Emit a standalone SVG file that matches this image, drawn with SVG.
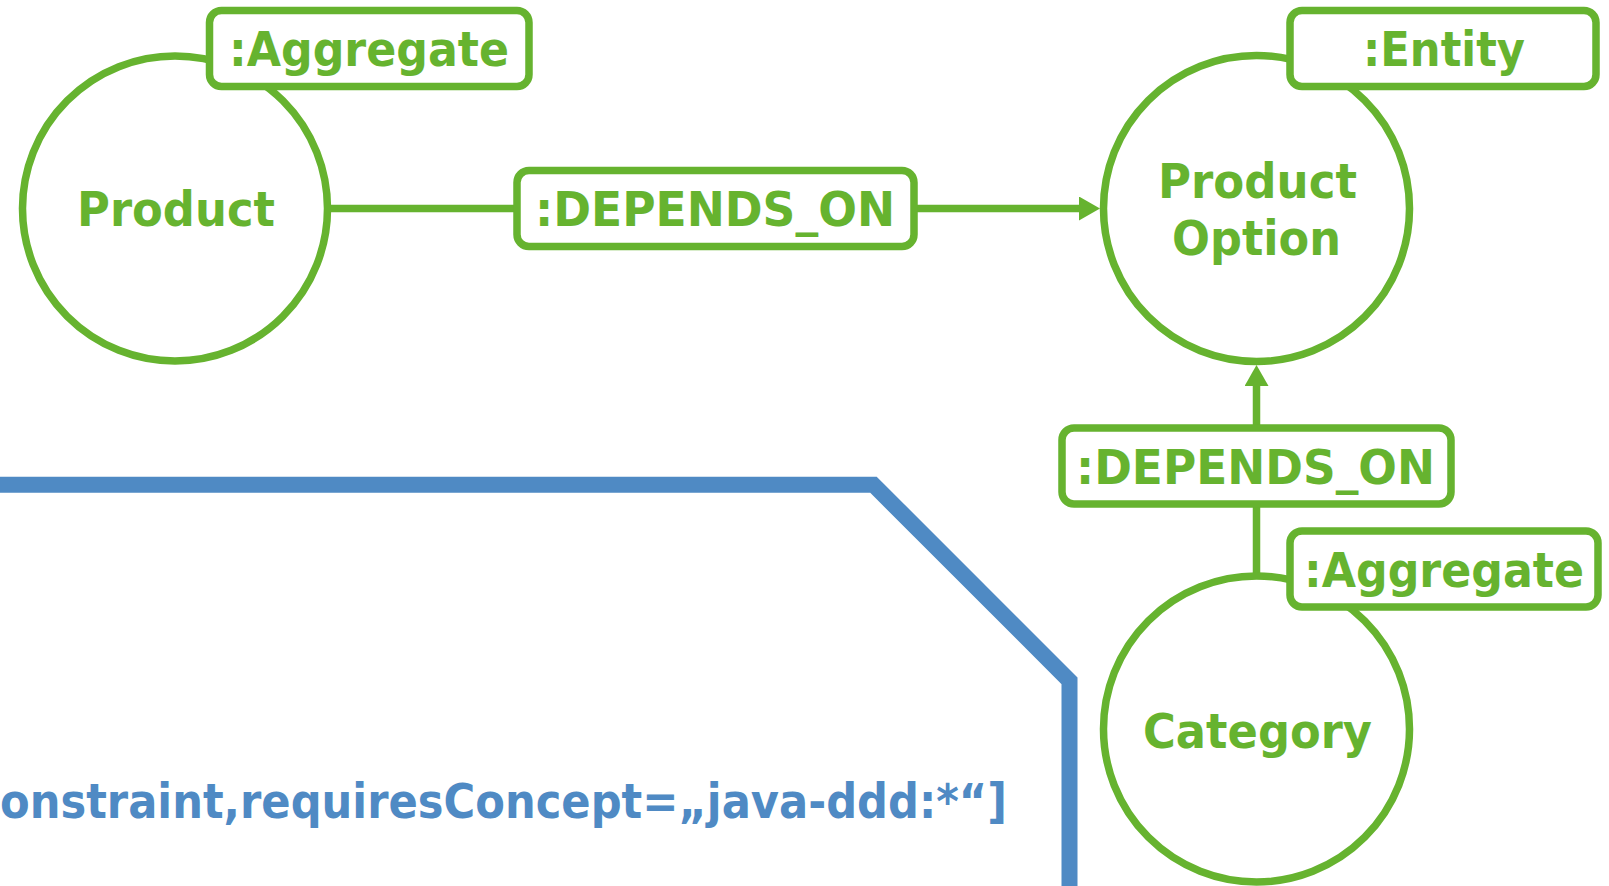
<svg xmlns="http://www.w3.org/2000/svg" width="1609" height="886" viewBox="0 0 1609 886">
<style>
.node{fill:#ffffff;stroke:#66b32f;stroke-width:7.5}
.lbl{fill:#ffffff;stroke:#66b32f;stroke-width:7.5}
.edge{fill:none;stroke:#66b32f;stroke-width:7.5}
.t{font-family:"DejaVu Sans","Noto Sans",sans-serif;font-weight:700;font-size:48px;fill:#66b32f}
.blue{fill:none;stroke:#4f8ac4;stroke-width:16;stroke-linejoin:miter}
.bt{font-family:"DejaVu Sans","Noto Sans",sans-serif;font-weight:700;font-size:48px;fill:#4f8ac4}
</style>
<defs>
<marker id="arr" viewBox="0 0 21 24" refX="0" refY="12" markerWidth="21" markerHeight="24" markerUnits="userSpaceOnUse" orient="auto">
<path d="M0,0 L21,12 L0,24 z" fill="#66b32f"/>
</marker>
</defs>
<rect width="1609" height="886" fill="#ffffff"/>
<g id="constraint-frame">
<polyline class="blue" points="-10,484.7 873.4,484.7 1069.5,680.8 1069.5,900"/>
<text class="bt" x="0" y="818" textLength="1007" lengthAdjust="spacingAndGlyphs">onstraint,requiresConcept=„java-ddd:*“]</text>
</g>
<g id="connectors">
<g id="edge-product-productoption">
<line class="edge" x1="328" y1="208.5" x2="517" y2="208.5"/>
<line class="edge" x1="914" y1="208.5" x2="1079" y2="208.5" marker-end="url(#arr)"/>
<rect class="lbl" x="517" y="170.5" width="397" height="76" rx="12"/>
<text class="t" x="535" y="226" textLength="360" lengthAdjust="spacingAndGlyphs">:DEPENDS_ON</text>
</g>
<g id="edge-category-productoption">
<line class="edge" x1="1256.5" y1="576" x2="1256.5" y2="504"/>
<line class="edge" x1="1256.5" y1="428" x2="1256.5" y2="386" marker-end="url(#arr)"/>
<rect class="lbl" x="1062" y="428" width="389" height="76" rx="12"/>
<text class="t" x="1076" y="484" textLength="359" lengthAdjust="spacingAndGlyphs">:DEPENDS_ON</text>
</g>
</g>
<g id="node-product">
<circle class="node" cx="175" cy="208.5" r="152.5"/>
<text class="t" x="77" y="226" textLength="198" lengthAdjust="spacingAndGlyphs">Product</text>
<rect class="lbl" x="209.5" y="10.5" width="319.5" height="76" rx="12"/>
<text class="t" x="229" y="66" textLength="280" lengthAdjust="spacingAndGlyphs">:Aggregate</text>
</g>
<g id="node-productoption">
<circle class="node" cx="1256.5" cy="208.5" r="153"/>
<text class="t" x="1158" y="198" textLength="199" lengthAdjust="spacingAndGlyphs">Product</text>
<text class="t" x="1172" y="254.5" textLength="169" lengthAdjust="spacingAndGlyphs">Option</text>
<rect class="lbl" x="1290" y="10.5" width="306" height="76" rx="12"/>
<text class="t" x="1363" y="66" textLength="162" lengthAdjust="spacingAndGlyphs">:Entity</text>
</g>
<g id="node-category">
<circle class="node" cx="1256.5" cy="729" r="153"/>
<text class="t" x="1143" y="747.5" textLength="229" lengthAdjust="spacingAndGlyphs">Category</text>
<rect class="lbl" x="1290" y="531" width="308" height="76" rx="12"/>
<text class="t" x="1304" y="586.5" textLength="280" lengthAdjust="spacingAndGlyphs">:Aggregate</text>
</g>
</svg>
